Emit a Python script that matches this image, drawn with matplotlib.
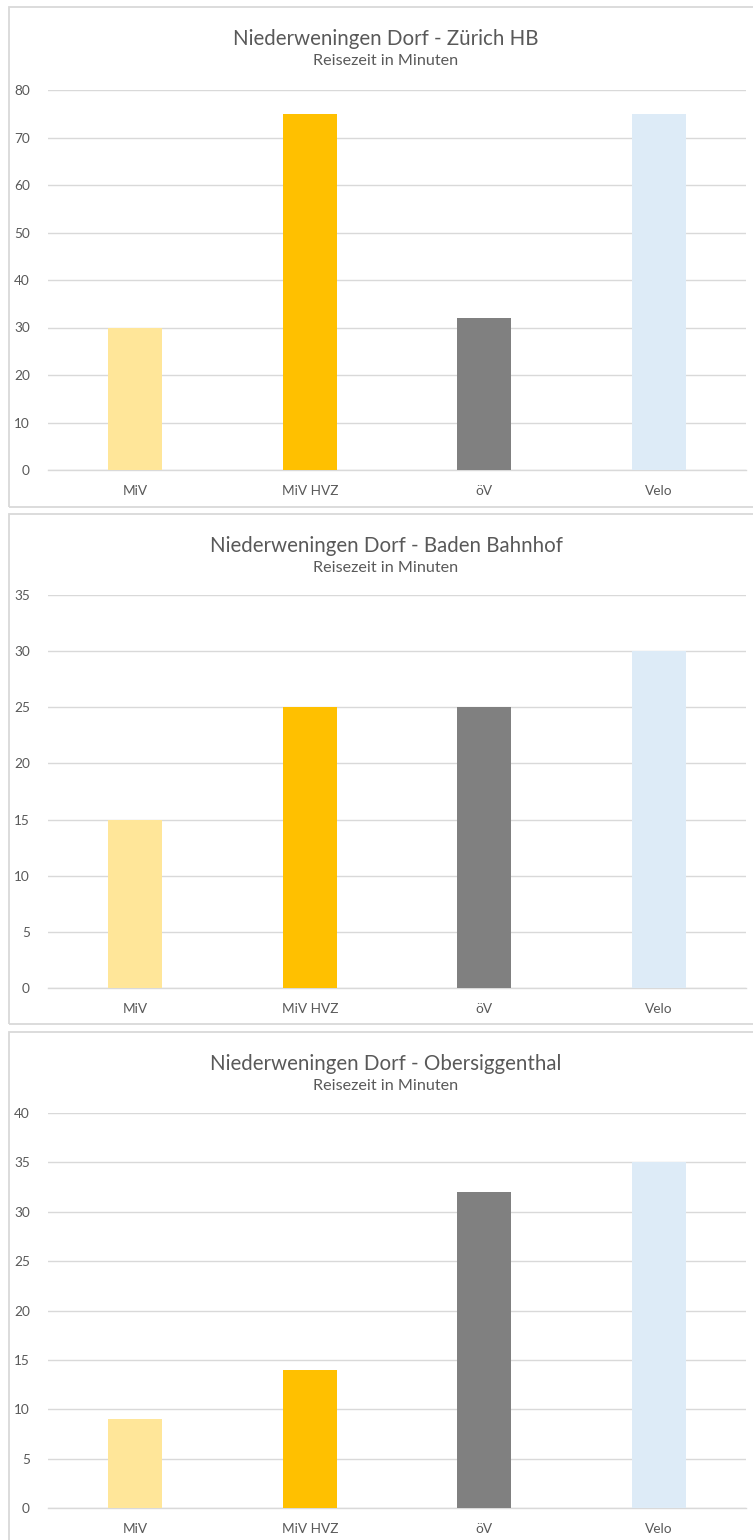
import numpy as np
import matplotlib
matplotlib.use('Agg')
import matplotlib.pyplot as plt
from matplotlib.patches import Rectangle

plt.rcParams['font.family'] = ['Lato', 'DejaVu Sans']

# daten
kategorien = ['MiV', 'MiV HVZ', 'öV', 'Velo']
farben = ['#FFE699', '#FFC000', '#808080', '#DDEBF7']

titel = ['Niederweningen Dorf - Zürich HB',
         'Niederweningen Dorf - Baden Bahnhof',
         'Niederweningen Dorf - Obersiggenthal']
untertitel = 'Reisezeit in Minuten'

zuerich = [30, 75, 32, 75]
baden = [15, 25, 25, 30]
obersiggenthal = [9, 14, 32, 35]
werte = [zuerich, baden, obersiggenthal]

ymax = [80, 35, 40]
ystep = [10, 5, 5]

W, H = 753, 1540
fig = plt.figure(figsize=(W / 100, H / 100), dpi=100)

# rahmen (oben, unten) und achsen (oben, unten) in pixel
rahmen = [(7, 507), (514, 1024), (1032, 1560)]
achsen = [(90, 470), (595, 988), (1113, 1508)]
x0, x1 = 48, 746
xm = 386 / W  # mitte titel

for i in range(3):
    rt, rb = rahmen[i]
    fig.patches.append(Rectangle((8.5 / W, 1 - rb / H), (W + 10) / W, (rb - rt) / H,
                                 transform=fig.transFigure, fill=False,
                                 edgecolor='#D9D9D9', linewidth=1.3))
    at, ab = achsen[i]
    ax = fig.add_axes([x0 / W, 1 - ab / H, (x1 - x0) / W, (ab - at) / H])
    ax.bar(np.arange(4), werte[i], width=0.31, color=farben, zorder=3)
    ax.set_xlim(-0.5, 3.5)
    ax.set_ylim(0, ymax[i])
    ax.set_yticks(np.arange(0, ymax[i] + 1, ystep[i]))
    ax.set_xticks(np.arange(4))
    ax.set_xticklabels(kategorien)
    ax.grid(axis='y', color='#D9D9D9', linewidth=1, zorder=0)
    for s in ['top', 'right', 'left']:
        ax.spines[s].set_visible(False)
    ax.spines['bottom'].set_color('#D9D9D9')
    ax.spines['bottom'].set_linewidth(1)
    ax.tick_params(length=0, labelcolor='#595959', labelsize=9.8)
    ax.tick_params(axis='x', pad=11)
    ax.tick_params(axis='y', pad=13)

    fig.text(xm, 1 - (rt + 32) / H, titel[i], ha='center', va='center',
             fontsize=14.8, color='#595959')
    fig.text(xm, 1 - (rt + 54) / H, untertitel, ha='center', va='center',
             fontsize=11.6, color='#595959')

fig.savefig('out.png', dpi=100, facecolor='white')
